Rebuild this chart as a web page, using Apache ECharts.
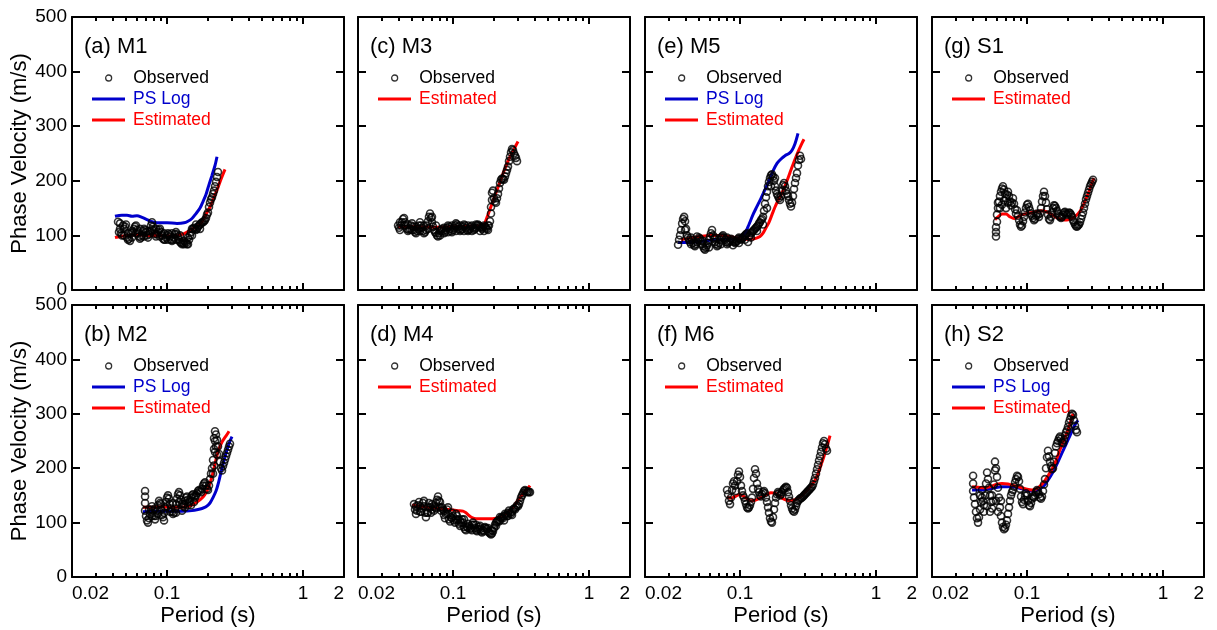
<!DOCTYPE html>
<html><head><meta charset="utf-8">
<script src="https://cdn.jsdelivr.net/npm/echarts@6/dist/echarts.min.js"></script>
<style>html,body{margin:0;padding:0;background:#fff}#c{width:1217px;height:630px}</style>
</head><body><div id="c"></div>
<script>
// ---- tick values (period in seconds, velocity in m/s) ----
const periodLabels = [0.02, 0.1, 1, 2];
const periodMajorTicks = [0.1, 1];
const periodMinorTicks = [0.03,0.04,0.05,0.06,0.07,0.08,0.09,0.2,0.3,0.4,0.5,0.6,0.7,0.8,0.9];
const panelLabels = ['(a) M1','(c) M3','(e) M5','(g) S1','(b) M2','(d) M4','(f) M6','(h) S2'];

// ---- data: [period (s), phase velocity (m/s)] ----
const obsM1 = [[0.0436,125],[0.0443,106],[0.0451,112],[0.0459,104],[0.0466,100],[0.0474,118],[0.0482,112],[0.0491,116],[0.0499,120],[0.0508,96],[0.0516,104],[0.0525,94],[0.0534,90],[0.0543,104],[0.0552,96],[0.0562,106],[0.0571,112],[0.0581,116],[0.0591,118],[0.0601,110],[0.0611,104],[0.0622,98],[0.0632,94],[0.0643,96],[0.0654,100],[0.0665,108],[0.0677,112],[0.0689,110],[0.0700,106],[0.0712,100],[0.0724,96],[0.0737,102],[0.0749,108],[0.0762,118],[0.0775,124],[0.0788,116],[0.0802,110],[0.0816,102],[0.0829,98],[0.0844,102],[0.0858,106],[0.0873,110],[0.0887,112],[0.0903,106],[0.0918,100],[0.0934,94],[0.0950,92],[0.0966,92],[0.0982,96],[0.0999,100],[0.1016,104],[0.1033,102],[0.1051,98],[0.1069,92],[0.1087,90],[0.1106,92],[0.1125,96],[0.1144,102],[0.1163,106],[0.1183,102],[0.1203,98],[0.1224,92],[0.1245,88],[0.1266,86],[0.1288,84],[0.1310,86],[0.1332,90],[0.1355,88],[0.1378,86],[0.1401,84],[0.1425,84],[0.1450,92],[0.1475,100],[0.1500,106],[0.1525,112],[0.1551,112],[0.1578,114],[0.1605,112],[0.1632,110],[0.1660,112],[0.1688,116],[0.1717,118],[0.1747,120],[0.1777,122],[0.1807,124],[0.1838,124],[0.1869,126],[0.1901,128],[0.1933,132],[0.1966,138],[0.2000,142],[0.2034,152],[0.2069,160],[0.2104,166],[0.2140,170],[0.2177,176],[0.2214,182],[0.2252,190],[0.2290,198],[0.2329,207],[0.2369,216],
  [0.0451,122],[0.0482,100],[0.0516,92],[0.0552,108],[0.0591,104],[0.0632,112],[0.0677,98],[0.0724,108],[0.0775,110],[0.0829,112],[0.0887,98],[0.0950,104],[0.1016,92],[0.1087,104],[0.1163,92],[0.1245,100],[0.1332,84],[0.1425,96],[0.1525,100],[0.1632,120],[0.1747,112]];
const psM1 = [[0.0414,135],[0.0466,137],[0.0508,137],[0.0552,135],[0.0601,136],[0.0654,133],[0.0712,129],[0.0775,125],[0.0844,123],[0.0999,123],[0.1183,122],[0.1332,123],[0.1425,126],[0.1525,131],[0.1632,140],[0.1747,150],[0.1838,162],[0.1933,175],[0.2034,193],[0.2140,210],[0.2252,228],[0.2329,244]];
const estM1 = [[0.0414,96],[0.0451,98],[0.0508,100],[0.0601,101],[0.0712,100],[0.0844,100],[0.0999,99],[0.1183,100],[0.1332,103],[0.1425,107],[0.1525,111],[0.1632,116],[0.1747,120],[0.1838,128],[0.1966,142],[0.2069,152],[0.2177,165],[0.2329,183],[0.2493,203],[0.2667,221]];

const obsM3 = [[0.0394,118],[0.0401,114],[0.0407,110],[0.0414,118],[0.0421,124],[0.0428,130],[0.0436,132],[0.0443,124],[0.0451,118],[0.0459,112],[0.0466,108],[0.0474,110],[0.0482,112],[0.0491,118],[0.0499,122],[0.0508,116],[0.0516,110],[0.0525,106],[0.0534,104],[0.0543,108],[0.0552,112],[0.0562,118],[0.0571,124],[0.0581,118],[0.0591,114],[0.0601,108],[0.0611,104],[0.0622,106],[0.0632,110],[0.0643,118],[0.0654,126],[0.0665,134],[0.0677,140],[0.0689,132],[0.0700,124],[0.0712,116],[0.0724,110],[0.0737,106],[0.0749,104],[0.0762,100],[0.0775,98],[0.0788,104],[0.0802,108],[0.0816,110],[0.0829,112],[0.0844,108],[0.0858,104],[0.0873,106],[0.0887,110],[0.0903,114],[0.0918,118],[0.0934,116],[0.0950,112],[0.0966,108],[0.0982,106],[0.0999,110],[0.1016,114],[0.1033,118],[0.1051,122],[0.1069,120],[0.1087,116],[0.1106,112],[0.1125,108],[0.1144,110],[0.1163,112],[0.1183,116],[0.1203,120],[0.1224,118],[0.1245,114],[0.1266,110],[0.1288,108],[0.1310,110],[0.1332,112],[0.1355,116],[0.1378,118],[0.1401,114],[0.1425,110],[0.1450,112],[0.1475,114],[0.1500,118],[0.1525,120],[0.1551,118],[0.1578,116],[0.1605,114],[0.1632,112],[0.1660,115],[0.1688,118],[0.1717,116],[0.1747,114],[0.1777,112],[0.1807,110],[0.1838,118],[0.1869,126],[0.1901,140],[0.1901,152],[0.1933,165],[0.1933,178],[0.1966,182],[0.2000,168],[0.2034,162],[0.2069,160],[0.2104,168],[0.2140,176],[0.2177,186],[0.2214,196],[0.2252,202],[0.2290,204],[0.2329,203],[0.2369,202],[0.2410,208],[0.2451,214],[0.2493,220],[0.2535,226],[0.2578,236],[0.2623,244],[0.2667,252],[0.2713,258],[0.2759,256],[0.2807,250],[0.2855,246],[0.2903,242],[0.2953,236],
  [0.0407,124],[0.0436,118],[0.0466,120],[0.0499,110],[0.0534,116],[0.0571,108],[0.0611,118],[0.0654,112],[0.0700,134],[0.0749,118],[0.0802,100],[0.0858,114],[0.0918,106],[0.0982,118],[0.1051,108],[0.1125,118],[0.1203,108],[0.1288,118],[0.1378,108],[0.1475,120],[0.1578,108],[0.1688,108],[0.1807,118]];
const estM3 = [[0.0394,116],[0.0552,116],[0.0775,115],[0.1087,116],[0.1525,117],[0.1632,117],[0.1688,120],[0.1747,128],[0.1807,138],[0.1869,148],[0.1933,158],[0.2000,168],[0.2069,178],[0.2140,188],[0.2214,198],[0.2290,208],[0.2369,218],[0.2451,227],[0.2535,236],[0.2623,244],[0.2713,251],[0.2807,258],[0.2903,265],[0.3003,272]];

const obsM5 = [[0.0350,83],[0.0356,92],[0.0362,100],[0.0368,110],[0.0375,122],[0.0381,130],[0.0388,134],[0.0394,126],[0.0401,112],[0.0407,100],[0.0414,96],[0.0421,92],[0.0428,88],[0.0436,96],[0.0443,92],[0.0451,86],[0.0459,82],[0.0466,80],[0.0474,84],[0.0482,88],[0.0491,92],[0.0499,96],[0.0508,94],[0.0516,90],[0.0525,84],[0.0534,80],[0.0543,76],[0.0552,74],[0.0562,78],[0.0571,82],[0.0581,86],[0.0591,92],[0.0601,98],[0.0611,104],[0.0622,110],[0.0632,100],[0.0643,94],[0.0654,88],[0.0665,84],[0.0677,80],[0.0689,82],[0.0700,86],[0.0712,92],[0.0724,96],[0.0737,98],[0.0749,100],[0.0762,96],[0.0775,92],[0.0788,88],[0.0802,84],[0.0816,86],[0.0829,88],[0.0844,90],[0.0858,94],[0.0873,92],[0.0887,90],[0.0903,88],[0.0918,86],[0.0934,88],[0.0950,90],[0.0966,94],[0.0982,96],[0.0999,94],[0.1016,92],[0.1033,94],[0.1051,96],[0.1069,98],[0.1087,100],[0.1106,102],[0.1125,104],[0.1144,88],[0.1163,98],[0.1183,100],[0.1203,104],[0.1224,106],[0.1245,108],[0.1266,110],[0.1288,112],[0.1310,114],[0.1332,116],[0.1355,118],[0.1378,122],[0.1401,124],[0.1425,128],[0.1450,130],[0.1475,134],[0.1500,145],[0.1525,158],[0.1551,170],[0.1578,180],[0.1605,190],[0.1632,198],[0.1660,205],[0.1688,210],[0.1717,212],[0.1747,208],[0.1777,200],[0.1807,190],[0.1838,182],[0.1869,176],[0.1901,172],[0.1933,168],[0.1966,165],[0.2000,172],[0.2034,182],[0.2069,192],[0.2104,196],[0.2140,190],[0.2177,182],[0.2214,176],[0.2252,172],[0.2290,165],[0.2329,158],[0.2369,153],[0.2410,160],[0.2451,172],[0.2493,185],[0.2535,196],[0.2578,205],[0.2623,214],[0.2667,228],[0.2713,238],[0.2759,246],[0.2807,240],
  [0.0394,110],[0.0436,84],[0.0482,98],[0.0534,90],[0.0591,78],[0.0654,96],[0.0724,84],[0.0802,96],[0.0887,82],[0.0982,86],[0.1087,92],[0.1203,96],[0.1332,108],[0.1475,120],[0.1578,150],[0.1688,190],[0.1807,205]];
const psM5 = [[0.0350,87],[0.0394,87],[0.0466,88],[0.0552,90],[0.0654,92],[0.0775,93],[0.0918,94],[0.1016,97],[0.1087,104],[0.1163,120],[0.1245,138],[0.1332,153],[0.1425,168],[0.1525,184],[0.1632,200],[0.1747,218],[0.1869,232],[0.2000,240],[0.2140,246],[0.2290,250],[0.2410,256],[0.2535,268],[0.2667,287]];
const estM5 = [[0.0368,92],[0.0428,95],[0.0508,98],[0.0601,100],[0.0712,100],[0.0844,98],[0.0999,94],[0.1183,93],[0.1288,94],[0.1401,98],[0.1475,104],[0.1551,114],[0.1632,124],[0.1717,138],[0.1807,152],[0.1901,164],[0.2000,174],[0.2104,186],[0.2214,200],[0.2329,215],[0.2451,230],[0.2578,244],[0.2713,257],[0.2855,269],[0.2953,276]];

const obsS1 = [[0.0591,98],[0.0591,106],[0.0591,115],[0.0601,125],[0.0601,138],[0.0611,150],[0.0611,160],[0.0622,162],[0.0632,150],[0.0632,172],[0.0643,180],[0.0654,156],[0.0654,186],[0.0665,190],[0.0677,164],[0.0677,184],[0.0689,176],[0.0700,150],[0.0700,168],[0.0712,175],[0.0724,160],[0.0724,180],[0.0737,172],[0.0749,162],[0.0762,155],[0.0775,160],[0.0788,168],[0.0802,158],[0.0816,148],[0.0829,140],[0.0844,146],[0.0858,136],[0.0873,128],[0.0887,120],[0.0903,116],[0.0918,118],[0.0934,126],[0.0950,134],[0.0966,142],[0.0982,150],[0.0999,156],[0.1016,158],[0.1033,152],[0.1051,146],[0.1069,140],[0.1087,136],[0.1106,132],[0.1125,128],[0.1144,130],[0.1163,136],[0.1183,140],[0.1203,138],[0.1224,134],[0.1245,140],[0.1266,150],[0.1288,162],[0.1310,172],[0.1332,180],[0.1355,172],[0.1378,160],[0.1401,148],[0.1425,138],[0.1450,130],[0.1475,128],[0.1500,134],[0.1525,142],[0.1551,150],[0.1578,155],[0.1605,154],[0.1632,150],[0.1660,145],[0.1688,140],[0.1717,136],[0.1747,134],[0.1777,132],[0.1807,134],[0.1838,138],[0.1869,142],[0.1901,143],[0.1933,140],[0.1966,138],[0.2000,140],[0.2034,142],[0.2069,141],[0.2104,138],[0.2140,134],[0.2177,128],[0.2214,124],[0.2252,120],[0.2290,117],[0.2329,116],[0.2369,118],[0.2410,120],[0.2451,124],[0.2493,130],[0.2535,136],[0.2578,142],[0.2623,150],[0.2667,158],[0.2713,166],[0.2759,172],[0.2807,178],[0.2855,184],[0.2903,190],[0.2953,194],[0.3003,198],[0.3055,202]];
const estS1 = [[0.0581,129],[0.0611,134],[0.0654,139],[0.0700,139],[0.0749,134],[0.0802,131],[0.0858,134],[0.0918,138],[0.0999,140],[0.1087,142],[0.1183,144],[0.1288,145],[0.1401,143],[0.1525,138],[0.1660,132],[0.1807,129],[0.1966,128],[0.2140,131],[0.2290,136],[0.2451,144],[0.2578,154],[0.2713,167],[0.2855,181],[0.3003,196],[0.3107,205]];

const obsM2 = [[0.0689,158],[0.0689,148],[0.0689,136],[0.0689,122],[0.0700,112],[0.0712,104],[0.0724,100],[0.0737,108],[0.0749,116],[0.0762,124],[0.0775,130],[0.0788,122],[0.0802,112],[0.0816,106],[0.0829,112],[0.0844,122],[0.0858,132],[0.0873,140],[0.0887,136],[0.0903,124],[0.0918,114],[0.0934,110],[0.0950,118],[0.0966,128],[0.0982,138],[0.0999,146],[0.1016,150],[0.1033,144],[0.1051,134],[0.1069,126],[0.1087,120],[0.1106,116],[0.1125,118],[0.1144,126],[0.1163,134],[0.1183,144],[0.1203,152],[0.1224,156],[0.1245,150],[0.1266,142],[0.1288,134],[0.1310,130],[0.1332,134],[0.1355,140],[0.1378,146],[0.1401,148],[0.1425,142],[0.1450,138],[0.1475,140],[0.1500,146],[0.1525,150],[0.1551,152],[0.1578,148],[0.1605,146],[0.1632,150],[0.1660,154],[0.1688,158],[0.1717,160],[0.1747,158],[0.1777,156],[0.1807,162],[0.1838,168],[0.1869,172],[0.1901,174],[0.1933,168],[0.1966,162],[0.2000,160],[0.2034,168],[0.2069,180],[0.2104,190],[0.2140,200],[0.2177,190],[0.2177,215],[0.2214,205],[0.2214,235],[0.2214,255],[0.2252,230],[0.2252,250],[0.2252,268],[0.2290,240],[0.2290,262],[0.2329,225],[0.2329,252],[0.2369,240],[0.2410,226],[0.2451,212],[0.2493,200],[0.2535,196],[0.2578,204],[0.2623,210],[0.2667,216],[0.2713,222],[0.2759,228],[0.2807,234],[0.2855,240],[0.2903,245],
  [0.0737,124],[0.0775,112],[0.0816,126],[0.0858,116],[0.0903,134],[0.0950,104],[0.0999,130],[0.1051,120],[0.1106,136],[0.1163,118],[0.1224,138],[0.1288,122],[0.1355,128],[0.1425,132],[0.1500,132],[0.1578,138]];
const psM2 = [[0.0665,120],[0.0775,121],[0.0918,121],[0.1087,121],[0.1288,121],[0.1525,122],[0.1688,124],[0.1807,126],[0.1933,129],[0.2069,136],[0.2177,146],[0.2290,158],[0.2369,170],[0.2451,185],[0.2535,200],[0.2623,214],[0.2713,228],[0.2807,240],[0.2903,250],[0.3003,258]];
const estM2 = [[0.0665,128],[0.0775,128],[0.0918,129],[0.1087,128],[0.1288,128],[0.1425,130],[0.1525,132],[0.1632,137],[0.1747,142],[0.1838,147],[0.1933,155],[0.2034,167],[0.2140,185],[0.2214,200],[0.2290,216],[0.2369,230],[0.2451,240],[0.2535,248],[0.2623,254],[0.2759,262],[0.2855,268]];

const obsM4 = [[0.0516,134],[0.0525,124],[0.0534,116],[0.0543,122],[0.0552,132],[0.0562,138],[0.0571,130],[0.0581,120],[0.0591,126],[0.0601,136],[0.0611,130],[0.0622,118],[0.0632,110],[0.0643,118],[0.0654,128],[0.0665,136],[0.0677,128],[0.0689,118],[0.0700,124],[0.0712,130],[0.0724,122],[0.0737,128],[0.0749,136],[0.0762,142],[0.0775,148],[0.0788,140],[0.0802,128],[0.0816,122],[0.0829,128],[0.0844,124],[0.0858,114],[0.0873,108],[0.0887,116],[0.0903,124],[0.0918,116],[0.0934,106],[0.0950,102],[0.0966,110],[0.0982,118],[0.0999,112],[0.1016,104],[0.1033,100],[0.1051,106],[0.1069,112],[0.1087,106],[0.1106,98],[0.1125,94],[0.1144,100],[0.1163,106],[0.1183,100],[0.1203,92],[0.1224,88],[0.1245,86],[0.1266,92],[0.1288,98],[0.1310,94],[0.1332,88],[0.1355,90],[0.1378,96],[0.1401,100],[0.1425,96],[0.1450,90],[0.1475,86],[0.1500,84],[0.1525,88],[0.1551,92],[0.1578,88],[0.1605,84],[0.1632,82],[0.1660,86],[0.1688,90],[0.1717,92],[0.1747,90],[0.1777,88],[0.1807,84],[0.1838,82],[0.1869,80],[0.1901,78],[0.1933,80],[0.1966,84],[0.2000,90],[0.2034,96],[0.2069,100],[0.2104,102],[0.2140,104],[0.2177,102],[0.2214,104],[0.2252,108],[0.2290,110],[0.2329,108],[0.2369,112],[0.2410,116],[0.2451,114],[0.2493,112],[0.2535,118],[0.2578,122],[0.2623,118],[0.2667,116],[0.2713,120],[0.2759,124],[0.2807,126],[0.2855,124],[0.2903,128],[0.2953,132],[0.3003,130],[0.3055,134],[0.3107,140],[0.3160,146],[0.3214,150],[0.3269,154],[0.3325,158],[0.3381,160],[0.3439,158],[0.3498,156],[0.3557,157],[0.3618,156],[0.3679,156],
  [0.0534,130],[0.0571,120],[0.0611,140],[0.0654,118],[0.0700,134],[0.0749,126],[0.0802,138],[0.0858,122],[0.0918,128],[0.0982,108],[0.1051,116],[0.1125,104],[0.1203,106],[0.1288,90],[0.1378,86],[0.1475,96],[0.1578,94],[0.1688,84],[0.1807,90],[0.1933,86],[0.2069,94],[0.2214,110],[0.2369,104],[0.2535,112],[0.2713,114]];
const estM4 = [[0.0499,132],[0.0571,130],[0.0654,128],[0.0775,126],[0.0918,124],[0.1087,122],[0.1183,121],[0.1245,118],[0.1310,113],[0.1378,109],[0.1475,107],[0.1660,107],[0.1869,107],[0.2069,108],[0.2214,110],[0.2369,114],[0.2535,119],[0.2713,126],[0.2903,136],[0.3107,146],[0.3325,155],[0.3557,163],[0.3679,168]];

const obsM6 = [[0.0802,160],[0.0816,152],[0.0829,140],[0.0844,134],[0.0858,146],[0.0873,160],[0.0887,172],[0.0903,176],[0.0918,168],[0.0934,158],[0.0950,176],[0.0966,188],[0.0982,194],[0.0999,184],[0.1016,168],[0.1033,158],[0.1051,150],[0.1069,146],[0.1087,140],[0.1106,134],[0.1125,128],[0.1144,126],[0.1163,128],[0.1183,132],[0.1203,138],[0.1224,146],[0.1245,162],[0.1266,182],[0.1288,198],[0.1310,190],[0.1332,172],[0.1355,162],[0.1378,156],[0.1401,150],[0.1425,148],[0.1450,152],[0.1475,156],[0.1500,158],[0.1525,154],[0.1551,146],[0.1578,138],[0.1605,128],[0.1632,118],[0.1660,108],[0.1688,102],[0.1717,100],[0.1747,110],[0.1777,124],[0.1807,136],[0.1838,146],[0.1869,152],[0.1901,156],[0.1933,154],[0.1966,150],[0.2000,152],[0.2034,156],[0.2069,160],[0.2104,162],[0.2140,164],[0.2177,166],[0.2214,164],[0.2252,156],[0.2290,148],[0.2329,140],[0.2369,132],[0.2410,126],[0.2451,122],[0.2493,120],[0.2535,124],[0.2578,130],[0.2623,136],[0.2667,140],[0.2713,142],[0.2759,144],[0.2807,145],[0.2855,146],[0.2903,148],[0.2953,150],[0.3003,152],[0.3055,154],[0.3107,156],[0.3160,158],[0.3214,160],[0.3269,162],[0.3325,164],[0.3381,166],[0.3439,170],[0.3498,176],[0.3557,182],[0.3618,190],[0.3679,198],[0.3743,206],[0.3806,214],[0.3872,222],[0.3937,230],[0.4005,238],[0.4073,246],[0.4143,250],[0.4213,244],[0.4286,236],[0.4358,232]];
const estM6 = [[0.0802,147],[0.0858,145],[0.0918,148],[0.0982,151],[0.1051,149],[0.1125,144],[0.1203,140],[0.1288,141],[0.1378,144],[0.1475,148],[0.1578,152],[0.1688,155],[0.1807,154],[0.1933,149],[0.2069,144],[0.2214,141],[0.2369,140],[0.2535,142],[0.2713,146],[0.2903,152],[0.3107,160],[0.3325,168],[0.3557,178],[0.3743,190],[0.3937,206],[0.4143,222],[0.4358,240],[0.4586,260]];

const obsS2 = [[0.0401,186],[0.0401,172],[0.0401,158],[0.0407,146],[0.0414,134],[0.0421,120],[0.0428,108],[0.0436,100],[0.0443,110],[0.0451,124],[0.0451,150],[0.0459,138],[0.0466,146],[0.0466,160],[0.0474,140],[0.0482,132],[0.0482,120],[0.0491,150],[0.0499,172],[0.0508,192],[0.0508,130],[0.0516,180],[0.0525,164],[0.0534,150],[0.0534,120],[0.0543,138],[0.0552,126],[0.0552,150],[0.0562,140],[0.0571,170],[0.0581,196],[0.0581,212],[0.0591,200],[0.0591,140],[0.0601,184],[0.0611,164],[0.0611,120],[0.0622,146],[0.0632,128],[0.0643,112],[0.0643,140],[0.0654,100],[0.0665,92],[0.0677,88],[0.0689,90],[0.0700,96],[0.0712,104],[0.0724,116],[0.0737,128],[0.0749,140],[0.0762,150],[0.0775,156],[0.0788,160],[0.0802,166],[0.0816,174],[0.0829,180],[0.0844,186],[0.0858,184],[0.0873,176],[0.0887,162],[0.0903,148],[0.0918,138],[0.0934,134],[0.0950,142],[0.0966,150],[0.0982,154],[0.0999,150],[0.1016,140],[0.1033,132],[0.1051,130],[0.1069,136],[0.1087,144],[0.1106,148],[0.1125,146],[0.1144,150],[0.1163,156],[0.1183,160],[0.1203,158],[0.1224,152],[0.1245,146],[0.1266,144],[0.1288,148],[0.1310,158],[0.1332,170],[0.1355,180],[0.1378,200],[0.1401,220],[0.1425,232],[0.1450,222],[0.1475,212],[0.1500,204],[0.1525,198],[0.1551,200],[0.1578,212],[0.1605,228],[0.1632,240],[0.1660,246],[0.1688,250],[0.1717,255],[0.1747,258],[0.1777,254],[0.1807,248],[0.1838,246],[0.1869,252],[0.1901,260],[0.1933,266],[0.1966,270],[0.2000,276],[0.2034,284],[0.2069,290],[0.2104,296],[0.2140,300],[0.2177,298],[0.2214,288],[0.2252,278],[0.2290,270],[0.2329,266]];
const psS2 = [[0.0394,160],[0.0466,160],[0.0552,163],[0.0654,166],[0.0775,166],[0.0918,162],[0.1087,158],[0.1203,160],[0.1332,168],[0.1425,178],[0.1525,190],[0.1632,204],[0.1747,220],[0.1869,236],[0.2000,252],[0.2140,268],[0.2252,280],[0.2369,288]];
const estS2 = [[0.0394,166],[0.0436,165],[0.0482,164],[0.0534,166],[0.0591,170],[0.0654,172],[0.0724,171],[0.0802,168],[0.0887,165],[0.0982,162],[0.1087,160],[0.1163,162],[0.1245,167],[0.1332,175],[0.1425,186],[0.1525,198],[0.1632,214],[0.1747,234],[0.1869,252],[0.2000,270],[0.2104,288],[0.2177,300]];

// panel order: top row a,c,e,g ; bottom row b,d,f,h
const observed = [obsM1, obsM3, obsM5, obsS1, obsM2, obsM4, obsM6, obsS2];
const psLog = [psM1, null, psM5, null, psM2, null, null, psS2];
const estimated = [estM1, estM3, estM5, estS1, estM2, estM4, estM6, estS2];

// ---- layout & style ----
const FONT = '"Liberation Sans", Arial, Helvetica, sans-serif';
const BLUE = '#0000cc', RED = '#ff0000';
const COLS = [72, 358, 645, 932];
const ROWS = [17, 305];
const HEIGHTS = [273, 272];
const W = 272;
const LOG = Math.log10;
const toXY = arr => arr.map(d => [LOG(d[0]), d[1]]);
const fmtPeriod = v => String(Number(Math.pow(10, v).toPrecision(2)));

const grids = [], xAxes = [], yAxes = [], titles = [], legends = [], series = [];
const axisLineStyle = {color: '#000', width: 2};

panelLabels.forEach((label, i) => {
  const col = i % 4, row = Math.floor(i / 4);
  const x0 = COLS[col], y0 = ROWS[row];
  const isBottom = row === 1, isLeft = col === 0;
  grids.push({left: x0, top: y0, width: W, height: HEIGHTS[row], show: false, containLabel: false, outerBoundsMode: 'none'});

  const baseX = {gridIndex: i, type: 'value', min: LOG(0.02), max: LOG(2), splitLine: {show: false}};
  xAxes.push(Object.assign({}, baseX, {
    position: 'bottom',
    axisLine: {show: true, onZero: false, lineStyle: axisLineStyle},
    axisTick: {show: true, inside: true, length: 7, customValues: periodMajorTicks.map(LOG), lineStyle: axisLineStyle},
    axisLabel: {show: isBottom, customValues: periodLabels.map(LOG), formatter: fmtPeriod, color: '#000',
      fontSize: 19, fontFamily: FONT, margin: 7, alignMinLabel: 'left', alignMaxLabel: 'right'},
    name: isBottom ? 'Period (s)' : '', nameLocation: 'middle', nameGap: 28,
    nameTextStyle: {fontSize: 22, color: '#000', fontFamily: FONT}
  }));
  xAxes.push(Object.assign({}, baseX, {
    position: 'bottom',
    axisLine: {show: false, onZero: false},
    axisTick: {show: true, inside: true, length: 4, customValues: periodMinorTicks.map(LOG), lineStyle: axisLineStyle},
    axisLabel: {show: false}
  }));
  xAxes.push(Object.assign({}, baseX, {
    position: 'top',
    axisLine: {show: true, onZero: false, lineStyle: axisLineStyle},
    axisTick: {show: true, inside: true, length: 7, customValues: periodMajorTicks.map(LOG), lineStyle: axisLineStyle},
    axisLabel: {show: false}
  }));
  xAxes.push(Object.assign({}, baseX, {
    position: 'top',
    axisLine: {show: false, onZero: false},
    axisTick: {show: true, inside: true, length: 4, customValues: periodMinorTicks.map(LOG), lineStyle: axisLineStyle},
    axisLabel: {show: false}
  }));

  const baseY = {gridIndex: i, type: 'value', min: 0, max: 500, interval: 100, splitLine: {show: false}};
  yAxes.push(Object.assign({}, baseY, {
    position: 'left',
    axisLine: {show: true, onZero: false, lineStyle: axisLineStyle},
    axisTick: {show: true, inside: true, length: 8, lineStyle: axisLineStyle},
    axisLabel: {show: isLeft, color: '#000', fontSize: 19, fontFamily: FONT, margin: 5},
    name: isLeft ? 'Phase Velocity (m/s)' : '', nameLocation: 'middle', nameGap: 37, nameRotate: 90,
    nameTextStyle: {fontSize: 22, color: '#000', fontFamily: FONT}
  }));
  yAxes.push(Object.assign({}, baseY, {
    position: 'right',
    axisLine: {show: true, onZero: false, lineStyle: axisLineStyle},
    axisTick: {show: true, inside: true, length: 8, lineStyle: axisLineStyle},
    axisLabel: {show: false}
  }));

  titles.push({text: label, left: x0 + 12, top: y0 + 19, padding: 0,
    textStyle: {fontSize: 22, fontWeight: 'normal', color: '#000', fontFamily: FONT}});

  const legendText = {fontSize: 17.5, lineHeight: 18, fontFamily: FONT, padding: [0, 0, 0, 3]};
  // the legend box starts at the drawn circle, which sits in the middle of the 33 px icon slot
  legends.push({
    orient: 'vertical', left: x0 + 33, top: y0 + 52, padding: 0, itemWidth: 33, itemHeight: 6,
    selectedMode: false, textStyle: legendText,
    data: [{name: 'Observed', icon: 'circle',
      itemStyle: {color: 'rgba(0,0,0,0)', borderColor: '#000', borderWidth: 1.3}, textStyle: {color: '#000'}}]
  });
  const lineItems = [];
  if (psLog[i]) lineItems.push({name: 'PS Log', icon: 'rect', itemStyle: {color: BLUE}, textStyle: {color: BLUE}});
  lineItems.push({name: 'Estimated', icon: 'rect', itemStyle: {color: RED}, textStyle: {color: RED}});
  legends.push({
    orient: 'vertical', left: x0 + 20, top: y0 + 52 + 21, padding: 0, itemWidth: 33, itemHeight: 3,
    itemGap: 3, selectedMode: false, textStyle: legendText, data: lineItems
  });

  if (psLog[i]) series.push({type: 'line', name: 'PS Log', xAxisIndex: 4 * i, yAxisIndex: 2 * i,
    data: toXY(psLog[i]), symbol: 'none', smooth: 0.3, silent: true,
    lineStyle: {color: BLUE, width: 3}, itemStyle: {color: BLUE}, z: 2});
  series.push({type: 'line', name: 'Estimated', xAxisIndex: 4 * i, yAxisIndex: 2 * i,
    data: toXY(estimated[i]), symbol: 'none', smooth: 0.3, silent: true,
    lineStyle: {color: RED, width: 3}, itemStyle: {color: RED}, z: 3});
  series.push({type: 'scatter', name: 'Observed', xAxisIndex: 4 * i, yAxisIndex: 2 * i,
    data: toXY(observed[i]), symbol: 'circle', symbolSize: 7, silent: true,
    itemStyle: {color: 'rgba(255,255,255,0)', borderColor: '#000', borderWidth: 1.6}, z: 4});
});

const chart = echarts.init(document.getElementById('c'), null, {renderer: 'canvas'});
chart.setOption({
  animation: false,
  backgroundColor: '#fff',
  textStyle: {fontFamily: FONT},
  grid: grids, xAxis: xAxes, yAxis: yAxes, title: titles, legend: legends, series: series
});
</script>
</body></html>
